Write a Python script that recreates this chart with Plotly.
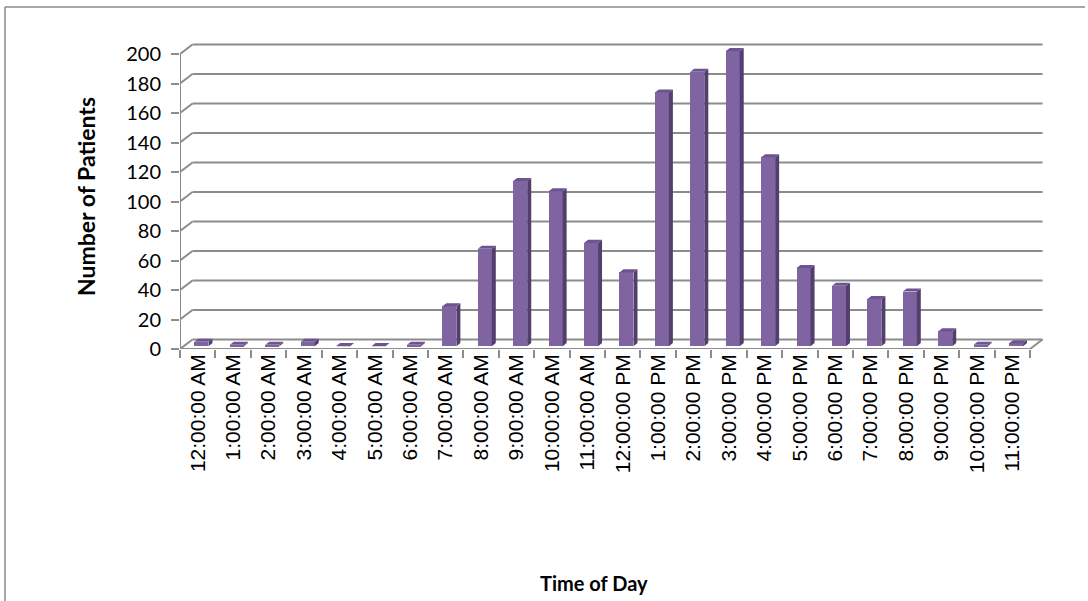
import plotly.graph_objects as go

# Hourly patient arrivals
hours = [
    "12:00:00 AM", "1:00:00 AM", "2:00:00 AM", "3:00:00 AM", "4:00:00 AM", "5:00:00 AM",
    "6:00:00 AM", "7:00:00 AM", "8:00:00 AM", "9:00:00 AM", "10:00:00 AM", "11:00:00 AM",
    "12:00:00 PM", "1:00:00 PM", "2:00:00 PM", "3:00:00 PM", "4:00:00 PM", "5:00:00 PM",
    "6:00:00 PM", "7:00:00 PM", "8:00:00 PM", "9:00:00 PM", "10:00:00 PM", "11:00:00 PM",
]
patients = [3, 1, 1, 3, 0, 0, 1, 27, 66, 112, 105, 70,
            50, 172, 186, 200, 128, 53, 41, 32, 37, 10, 1, 2]
y_ticks = list(range(0, 201, 20))

# ---- page / plot-area geometry (pixels) ----
W, H = 1088, 601
PL, PR, PT, PB = 180, 1050, 40, 349          # plot box: left, right, top, bottom(front floor)
cat_px = (1030 - PL) / len(hours)            # width of one category
unit_px = (PB - 54) / 200                    # pixels per patient
X0 = -0.5
X1 = X0 + (PR - PL) / cat_px
Y1 = (PB - PT) / unit_px

# oblique "depth" of the pseudo-3D box, in data units
DX = 12.5 / cat_px
DY = 9.5 / unit_px
BAR_W = 0.396      # front face width (category units)
FRONT = 0.30       # depth at which the front face sits
THICK = 0.32       # bar depth

FACE = "#8064A2"
SIDE = "#533F6E"
TOP = "#6B5490"
GRID = "#8C8C8C"
FONT_NUM = "Lato"
FONT_CAT = "Liberation Sans, Arial, sans-serif"


def px_x(px):
    return (px - PL) / (PR - PL)


def px_y(py):
    return (PB - py) / (PB - PT)


fig = go.Figure()

# front faces of the columns
fig.add_trace(go.Bar(
    x=hours, y=patients, base=FRONT * DY,
    width=BAR_W, offset=-BAR_W / 2 + FRONT * DX,
    marker=dict(color=FACE, line=dict(width=0)),
    xaxis="x", yaxis="y", showlegend=False, hoverinfo="skip",
))

# side and top faces built from the same values
side_x, side_y, top_x, top_y = [], [], [], []
ox, oy = THICK * DX, THICK * DY
for i, v in enumerate(patients):
    xl = i - BAR_W / 2 + FRONT * DX
    xr = xl + BAR_W
    yb = FRONT * DY
    yt = v + FRONT * DY
    side_x += [xr, xr, xr + ox, xr + ox, xr, None]
    side_y += [yb, yt, yt + oy, yb + oy, yb, None]
    top_x += [xl, xr, xr + ox, xl + ox, xl, None]
    top_y += [yt, yt, yt + oy, yt + oy, yt, None]

fig.add_trace(go.Scatter(x=side_x, y=side_y, mode="none", fill="toself",
                         fillcolor=SIDE, xaxis="x2", yaxis="y",
                         showlegend=False, hoverinfo="skip"))
fig.add_trace(go.Scatter(x=top_x, y=top_y, mode="none", fill="toself",
                         fillcolor=TOP, xaxis="x2", yaxis="y",
                         showlegend=False, hoverinfo="skip"))

# front axis frame: left value axis, front floor edge and right floor diagonal
n = len(hours)
frame_x = [X0, X0, None, X0, n - 0.5, n - 0.5 + DX]
frame_y = [200, 0, None, 0, 0, DY]
fig.add_trace(go.Scatter(x=frame_x, y=frame_y, mode="lines",
                         line=dict(color=GRID, width=2), cliponaxis=False,
                         xaxis="x2", yaxis="y", showlegend=False, hoverinfo="skip"))

# back-wall gridlines with their side-wall diagonals
shapes = []
for v in y_ticks:
    shapes.append(dict(type="line", xref="x", yref="y", layer="below",
                       x0=X0 + DX, x1=n - 0.5 + DX, y0=v + DY, y1=v + DY,
                       line=dict(color=GRID, width=2)))
    shapes.append(dict(type="line", xref="x", yref="y", layer="below",
                       x0=X0, x1=X0 + DX, y0=v, y1=v + DY,
                       line=dict(color=GRID, width=2)))

# chart-area border (left and top edges are inside the page)
for x0, y0, x1, y1 in [(5, 7, 5, H), (5, 7, W - 3, 7)]:
    shapes.append(dict(type="line", xref="paper", yref="paper",
                       x0=px_x(x0), x1=px_x(x1), y0=px_y(y0), y1=px_y(y1),
                       line=dict(color="#8A8A8A", width=1.5), layer="below"))

fig.update_layout(
    width=W, height=H,
    margin=dict(l=PL, r=W - PR, t=PT, b=H - PB, pad=0),
    paper_bgcolor="white", plot_bgcolor="white",
    bargap=0, showlegend=False,
    shapes=shapes,
    xaxis=dict(
        type="category", range=[X0, X1],
        tickson="boundaries", ticks="outside", ticklen=8,
        tickwidth=1.5, tickcolor=GRID, tickangle=-90,
        tickfont=dict(family=FONT_CAT, size=21, color="black"),
        showgrid=False, showline=False, zeroline=False,
    ),
    xaxis2=dict(overlaying="x", range=[X0, X1], visible=False),
    yaxis=dict(
        range=[0, Y1], tickvals=y_ticks, ticks="outside", ticklen=8,
        tickwidth=1.5, tickcolor=GRID, ticklabelstandoff=6,
        tickfont=dict(family=FONT_NUM, size=20, color="black"),
        showgrid=False, showline=False, zeroline=False,
    ),
    annotations=[
        dict(text="Number of Patients", xref="paper", yref="paper",
             x=px_x(86), y=px_y(197), xanchor="center", yanchor="middle",
             textangle=-90, showarrow=False,
             font=dict(family=FONT_NUM, size=23, color="black", weight="bold")),
        dict(text="Time of Day", xref="paper", yref="paper",
             x=px_x(594), y=px_y(583), xanchor="center", yanchor="middle",
             showarrow=False,
             font=dict(family=FONT_NUM, size=20, color="black", weight="bold")),
    ],
)

fig.write_html("out.html")
